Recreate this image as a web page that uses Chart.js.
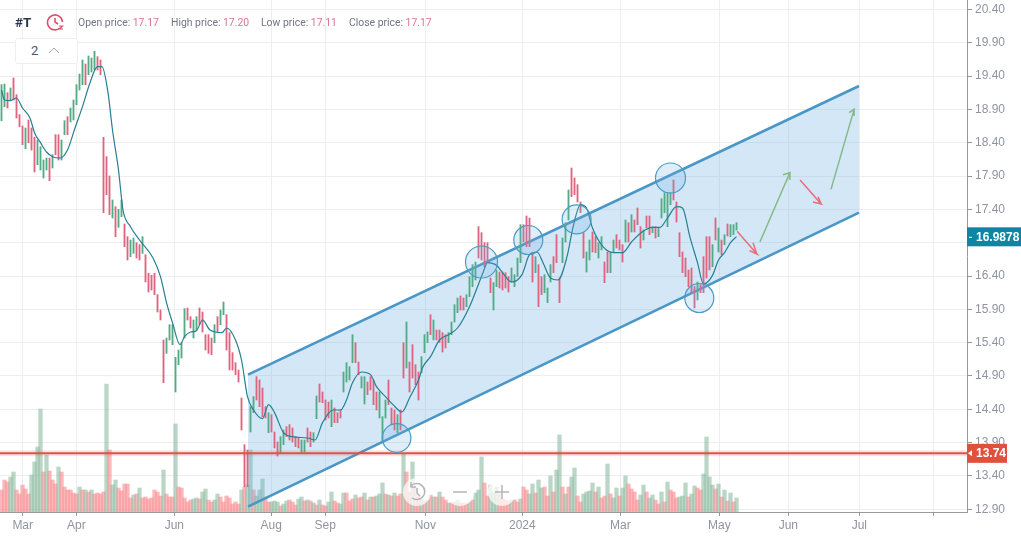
<!DOCTYPE html>
<html>
<head>
<meta charset="utf-8">
<title>#T</title>
<script src="https://cdn.jsdelivr.net/npm/chart.js@4/dist/chart.umd.min.js"></script>
<style>
    html, body { margin: 0; padding: 0; background: #fff; }
    #wrap { position: relative; width: 1021px; height: 537px; overflow: hidden; font-family: Roboto, sans-serif; }
    canvas { position: absolute; left: 0; top: 0; }
    .hd { position: absolute; top: 16px; font-size: 10.4px; line-height: 13px; color: #6f7582; white-space: nowrap; }
    .hd span { color: #d8788a; }
    #ticker { position: absolute; left: 15px; top: 14px; font-size: 13.5px; line-height: 16px; font-weight: 700; color: #2d3550; }
    #clock { position: absolute; left: 46px; top: 13px; }
    #period { position: absolute; left: 15px; top: 38px; width: 61px; height: 24px; border: 1px solid #efefef; border-radius: 3px; background: #fff; }
    #period b { position: absolute; left: 15px; top: 4px; font-weight: 400; font-size: 13px; line-height: 16px; color: #555; }
    #period svg { position: absolute; left: 32px; top: 8px; }
    .btn { position: absolute; top: 477px; }
</style>
</head>
<body>
<div id="wrap">
    <canvas id="price-chart" width="1021" height="537"></canvas>
    <div id="ticker">#T</div>
    <svg id="clock" width="18" height="18" viewBox="0 0 18 18" fill="none" stroke="#d9536b" stroke-width="1.6">
        <path d="M14 15 A7.5 7.5 0 1 1 16.5 9"/><path d="M9 5v4l3 2"/><path d="M13 13h3.5l-3 3h3.5" stroke-width="1.2"/>
    </svg>
    <div class="hd" style="left:78px">Open price: <span>17.17</span></div>
    <div class="hd" style="left:171px">High price: <span>17.20</span></div>
    <div class="hd" style="left:261px">Low price: <span>17.11</span></div>
    <div class="hd" style="left:349px">Close price: <span>17.17</span></div>
    <div id="period"><b>2</b>
        <svg width="12" height="7" viewBox="0 0 12 7" fill="none" stroke="#aaa" stroke-width="1"><path d="M1 6l5-5 5 5"/></svg>
    </div>
    <svg class="btn" style="left:402px" width="30" height="30" viewBox="0 0 30 30" fill="none" stroke="#b5b5b5" stroke-width="1.5">
        <circle cx="15" cy="15" r="14" fill="rgba(255,255,255,.72)" stroke="none"/>
        <path d="M9 9 A8 8 0 1 1 10 21"/><path d="M9 5v5h5"/><path d="M15 11v5l3 3"/>
    </svg>
    <svg class="btn" style="left:445px" width="30" height="30" viewBox="0 0 30 30" fill="none" stroke="#b5b5b5" stroke-width="1.5">
        <circle cx="15" cy="15" r="14" fill="rgba(255,255,255,.72)" stroke="none"/>
        <path d="M8 15h14"/>
    </svg>
    <svg class="btn" style="left:487px" width="30" height="30" viewBox="0 0 30 30" fill="none" stroke="#b5b5b5" stroke-width="1.5">
        <circle cx="15" cy="15" r="14" fill="rgba(255,255,255,.72)" stroke="none"/>
        <path d="M8 15h14M15 8v14"/>
    </svg>
</div>

<script>
// session highs and lows, one entry per session
const highs = [
    19.27,19.28,19.15,19.22,19.37,19.12,18.82,18.65,18.62,18.74,
    18.62,18.48,18.44,18.34,18.14,18.17,18.17,18.22,18.52,18.52,
    18.44,18.73,18.79,18.92,19.04,19.27,19.43,19.64,19.58,19.70,
    19.67,19.77,19.69,19.64,18.48,18.19,17.90,17.54,17.44,17.40,
    17.54,17.18,16.99,16.94,16.97,16.90,16.87,16.99,16.72,16.44,
    16.41,16.44,16.12,15.89,15.44,15.47,15.67,15.67,15.18,15.29,
    15.40,15.91,15.92,15.79,15.74,15.79,15.92,15.86,15.52,15.52,
    15.47,15.67,15.79,15.89,16.01,15.82,15.55,15.25,15.10,14.99,
    14.57,13.87,13.79,14.44,14.59,14.89,14.84,14.72,14.44,14.35,
    14.32,14.06,13.91,13.99,14.09,14.14,14.17,14.12,13.99,13.97,
    13.94,13.94,14.12,14.06,14.05,14.60,14.78,14.66,14.54,14.51,
    14.54,14.42,14.35,14.39,14.96,15.10,15.04,15.52,15.40,15.11,
    14.89,14.89,14.81,14.89,14.84,14.66,14.66,14.29,14.54,14.84,
    14.42,14.39,14.32,14.39,15.40,15.71,15.11,15.37,15.07,14.96,
    15.19,15.52,15.56,15.82,15.74,15.59,15.59,15.55,15.52,15.55,
    15.71,15.97,16.07,16.10,16.07,16.12,16.39,16.57,16.61,17.14,
    17.05,16.90,16.90,16.37,16.30,16.49,16.46,16.46,16.45,16.39,
    16.52,16.42,16.67,17.17,17.17,17.30,17.27,16.75,16.69,16.57,
    16.39,16.42,16.22,16.57,16.69,17.02,16.37,16.97,17.20,17.69,
    18.02,17.87,17.77,17.51,17.05,16.76,16.94,17.06,16.99,16.90,
    16.99,16.61,16.76,16.76,16.94,17.02,16.94,16.87,17.24,17.20,
    17.32,17.24,17.42,17.14,17.09,17.30,17.30,17.14,17.14,17.12,
    17.56,17.65,17.65,17.65,17.84,17.51,17.05,16.76,16.67,16.49,
    16.52,16.24,16.31,16.27,16.69,16.99,16.99,16.87,17.27,17.12,
    16.94,17.02,17.18,17.17,17.17,17.20
];
const lows = [
    18.73,18.94,18.92,19.04,19.04,18.77,18.64,18.37,18.31,18.40,
    18.29,17.96,18.07,17.99,17.87,17.99,17.83,18.02,18.22,18.14,
    18.14,18.52,18.52,18.71,18.74,18.97,19.19,19.27,19.27,19.42,
    19.46,19.49,19.49,19.42,17.35,17.62,17.32,17.27,16.99,17.13,
    17.29,16.84,16.64,16.69,16.74,16.67,16.64,16.74,16.31,16.16,
    16.19,16.12,15.86,15.74,14.80,15.24,15.44,15.37,14.66,15.07,
    15.17,15.47,15.74,15.62,15.47,15.59,15.67,15.56,15.29,15.24,
    15.22,15.40,15.56,15.67,15.82,15.29,14.99,14.99,14.92,14.81,
    14.09,13.24,13.24,14.06,14.35,14.54,14.44,14.29,14.27,14.05,
    14.06,13.82,13.70,13.75,13.87,13.99,13.94,13.91,13.84,13.82,
    13.75,13.76,13.91,13.84,13.91,14.26,14.51,14.50,14.24,14.27,
    14.14,14.20,14.20,14.27,14.66,14.81,14.84,15.10,15.10,14.92,
    14.72,14.48,14.62,14.69,14.47,14.39,14.27,13.91,14.27,14.47,
    14.17,14.09,14.05,14.09,14.87,15.02,14.66,14.87,14.77,14.54,
    14.95,15.25,15.40,15.52,15.44,15.44,15.40,15.26,15.32,15.40,
    15.52,15.71,15.85,15.89,15.89,15.94,16.09,16.24,16.34,16.67,
    16.64,16.54,16.60,16.15,15.89,16.24,16.22,16.19,16.22,16.16,
    16.31,16.24,16.39,16.60,16.91,16.84,16.84,16.31,16.45,15.94,
    16.12,16.15,16.00,16.31,16.45,16.60,16.00,16.60,16.91,17.24,
    17.59,17.62,17.51,17.35,16.67,16.46,16.64,16.76,16.75,16.67,
    16.79,16.30,16.45,16.45,16.76,16.82,16.79,16.61,16.91,16.91,
    17.06,17.06,17.17,16.82,16.94,17.12,17.02,17.05,16.97,16.99,
    17.27,17.35,17.14,17.47,17.54,17.21,16.69,16.45,16.39,16.24,
    16.15,15.92,16.04,16.15,16.15,16.37,16.49,16.54,16.94,16.76,
    16.72,16.87,17.00,16.99,17.02,17.09
];
// g = closed up, r = closed down
const candleDirs = "ggrgrrrrgr" + "rrggggrgrr" + "ggrgggggrg" + "ggrrrrrgrg" + "grrggrrgrr" +
    "rrrrrggggg" + "ggrrggrrrr" + "rgrggrrrrr" + "rrrggrrrrg" + "rrrggrrrrr" +
    "ggrrggrrrr" + "grrrggggrr" + "ggrrrrgggr" + "rrgrrgrrrr" + "gggrgrrrrg" +
    "gggrrggggr" + "rrrrggrrrr" + "ggggrrrrgr" + "rgggrrrggg" + "rrrrrggrrg" +
    "grrggrrrgr" + "grrrgrrgrg" + "ggggrrrrrr" + "rrgrrrrgrg" + "rgrggg";

// volume in millions, one entry per session
const volumes = [
    22,32,30,35,40,22,18,27,23,18, 37,50,65,103,40,57,41,32,28,45,
    40,25,22,22,19,18,25,22,22,20, 22,18,19,18,20,128,62,27,32,24,
    21,28,28,14,17,18,24,14,15,13, 14,22,20,16,42,18,15,15,88,25,
    24,14,10,12,13,14,13,20,23,12, 10,12,18,15,10,16,14,8,10,8,
    22,25,27,62,22,16,22,33,15,10, 10,11,10,6,8,11,12,10,7,13,
    15,11,12,11,9,7,12,7,6,10, 20,11,9,8,19,19,11,13,17,14,
    15,19,12,15,15,16,18,29,18,17, 16,19,16,18,58,40,20,50,25,16,
    13,11,12,17,15,15,20,15,12,9, 9,10,12,9,9,8,10,12,19,22,
    55,29,16,27,19,25,18,13,12,11, 12,12,10,13,25,22,18,28,19,32,
    24,25,16,36,20,42,77,25,18,25, 35,44,16,10,18,20,21,29,20,25,
    14,16,48,18,14,24,16,24,36,28, 23,20,12,17,27,20,14,17,12,8,
    20,10,30,22,20,14,15,16,29,15, 18,26,24,22,38,75,35,27,23,28,
    15,22,11,19,10,14
];
const volumeDirs = "rrrggrrrrr" + "ggggrgrrrg" + "rrrrrrgrgr" + "grrrrgrggr" + "rrrrgrgrrr" +
    "rrrrgrrrgr" + "rrrrggrggr" + "rggrrrrrrr" + "grggrgggrr" + "gggrggrrrg" +
    "grgrgrgrrg" + "grrggrrrgr" + "rgrgrgggrg" + "rgrrgrrgrr" + "grgrgrgrrg" +
    "rrgrrrgrgg" + "grrgggrrrr" + "grrgrrggrg" + "grrgrggrgr" + "ggrrggggrg" +
    "rrgrggrggr" + "rrrggrggrr" + "grgrrrgggr" + "ggrrggggrg" + "rgrgrg";

// moving average: session number and value
const maSessions = [0,1,3,5,7,9.5,11,13,15,17,19.5,22,24.5,27,29.5,32,33.5,35.5,37,39,40.5,43,46,50.5,53,55,57,59.5,61,63,65,67,69.5,73.5,75,78,80,82,84,87,89,91,94,97,102,104.5,107,110.5,113,115,117,120,123,125,128,130.5,133.5,136,139,140.5,143,146,149,152,156,160.5,162,165,167,170,173.5,176,178.5,180.5,183,185.5,188.5,190.5,193,195,197,200.5,204,207,210,213.5,217,219.5,222,225,227,229.5,232,234,237,239,241,243,245];
const maValues = [19.19,19.04,19.03,19.07,18.92,18.77,18.55,18.40,18.26,18.19,18.17,18.29,18.62,18.94,19.30,19.54,19.54,19.15,18.59,17.99,17.39,17.14,16.94,16.67,16.39,16.00,15.70,15.37,15.49,15.56,15.58,15.74,15.59,15.55,15.62,15.44,15.14,14.59,14.39,14.26,14.47,14.35,14.05,13.99,13.97,13.94,14.20,14.39,14.39,14.54,14.80,14.96,14.92,14.74,14.59,14.47,14.36,14.57,14.84,15.04,15.19,15.44,15.52,15.62,15.94,16.45,16.60,16.56,16.45,16.31,16.42,16.72,16.76,16.60,16.37,16.34,16.69,17.13,17.47,17.42,17.12,16.84,16.75,16.75,16.91,17.06,17.13,17.13,17.27,17.44,17.42,16.98,16.60,16.28,16.41,16.64,16.75,16.90,16.99];

// axes
const priceTicks = [12.9,13.4,13.9,14.4,14.9,15.4,15.9,16.4,16.9,17.4,17.9,18.4,18.9,19.4,19.9,20.4];
const monthTicks = [7.07,24.93,57.6,89.93,107.93,141.27,173.6,206.27,239.27,262.27,285.93,310.6];
const monthLabels = ["Mar","Apr","Jun","Aug","Sep","Nov","2024","Mar","May","Jun","Jul",""];

// drawings on the chart
const channelSessions = [82.17,285.83];
const channelUpper = [14.92,19.25];
const channelLower = [12.94,17.35];
const circleSessions = [131.7,160,175.6,191.7,223,232.6];
const circlePrices = [13.97,16.61,16.94,17.25,17.87,16.07];
const circleSizes = [14.3,16,14.5,14.5,15,14.5];
const supportPrice = 13.74;
const lastPrice = 16.9878;
const arrowRed1 = [[245.2,17.07],[251.8,16.73],[249.3,16.78],[251.8,16.73],[250.5,16.90]];
const arrowGreen1 = [[252.8,16.91],[262.8,17.95],[260.5,17.92],[262.8,17.95],[262.8,17.84]];
const arrowRed2 = [[266.2,17.84],[273.2,17.48],[270.5,17.51],[273.2,17.48],[272.2,17.59]];
const arrowGreen2 = [[276.5,17.70],[284.2,18.90],[282.5,18.85],[284.2,18.90],[284.2,18.80]];

const sessionCount = 322; // width of the x axis, including the empty part on the right

function xy(xs, ys) {
    return xs.map(function(x, i) { return { x: x, y: ys[i] }; });
}

function arrowDataset(path, color) {
    return {
        type: "line",
        data: path.map(function(p) { return { x: p[0], y: p[1] }; }),
        borderColor: color,
        borderWidth: 1.5,
        pointRadius: 0,
        order: 1
    };
}

const candleData = highs.map(function(h, i) { return { x: i, y: [lows[i], h] }; });
const volumeData = volumes.map(function(v, i) { return { x: i, y: v }; });

// price tags on the right axis
const priceTags = {
    id: "priceTags",
    afterDraw: function(chart) {
        const c = chart.ctx;
        const scale = chart.scales.y;
        const left = scale.left;

        function tag(price, text, color, width) {
            const y = scale.getPixelForValue(price);
            c.save();
            c.fillStyle = color;
            c.fillRect(left, y - 9.5, width, 19);
            c.fillStyle = "#fff";
            c.font = "bold 12px 'Liberation Sans', Arial, sans-serif";
            c.textBaseline = "middle";
            c.textAlign = "left";
            c.fillText(text, left + 9, y + 0.5);
            c.restore();
            return y;
        }

        const y1 = tag(lastPrice, String(lastPrice), "#0d86a5", chart.width - left);
        c.fillStyle = "#fff";
        c.fillRect(left + 2, y1, 3, 1);
        const y2 = tag(supportPrice, supportPrice.toFixed(2), "#e0503c", 40);
        c.save();
        c.fillStyle = "#fff";
        c.beginPath();
        c.moveTo(left + 1, y2);
        c.lineTo(left + 5, y2 - 3);
        c.lineTo(left + 5, y2 + 3);
        c.fill();
        c.restore();
    }
};

const ctx = document.getElementById("price-chart").getContext("2d");
new Chart(ctx, {
    type: "bar",
    data: {
        datasets: [
            {
                // volume at the bottom
                data: volumeData,
                yAxisID: "vol",
                backgroundColor: volumeDirs.split("").map(function(d) {
                    return d === "g" ? "rgba(128,180,152,0.55)" : "rgba(250,135,140,0.6)";
                }),
                barThickness: 3.6,
                grouped: false,
                order: 9
            },
            {
                // upper channel line, filled down to the lower one
                type: "line",
                data: xy(channelSessions, channelUpper),
                borderColor: "#4a96c6",
                borderWidth: 2.6,
                backgroundColor: "rgba(110,175,225,0.30)",
                pointRadius: 0,
                fill: "+1",
                order: 8
            },
            {
                type: "line",
                data: xy(channelSessions, channelLower),
                borderColor: "#4a96c6",
                borderWidth: 2.6,
                pointRadius: 0,
                order: 7
            },
            {
                // session high-low bars
                data: candleData,
                backgroundColor: candleDirs.split("").map(function(d) {
                    return d === "g" ? "#52ab85" : "#de6580";
                }),
                barThickness: 1.2,
                grouped: false,
                order: 5
            },
            {
                type: "line",
                data: xy(maSessions, maValues),
                borderColor: "#267f94",
                borderWidth: 1.2,
                pointRadius: 0,
                cubicInterpolationMode: "monotone",
                order: 4
            },
            {
                // support line, pale halo under it
                type: "line",
                data: xy([-0.5, sessionCount], [supportPrice, supportPrice]),
                borderColor: "rgba(224,86,74,0.16)",
                borderWidth: 6,
                pointRadius: 0,
                order: 3
            },
            {
                type: "line",
                data: xy([-0.5, sessionCount], [supportPrice, supportPrice]),
                borderColor: "#dc5548",
                borderWidth: 2,
                pointRadius: 0,
                order: 2
            },
            {
                // marked touches of the channel
                type: "bubble",
                data: circleSessions.map(function(x, i) {
                    return { x: x, y: circlePrices[i], r: circleSizes[i] };
                }),
                backgroundColor: "rgba(110,175,225,0.22)",
                borderColor: "#4a9ac4",
                borderWidth: 1.2,
                order: 1
            },
            arrowDataset(arrowRed1, "#e4707a"),
            arrowDataset(arrowGreen1, "#86b98a"),
            arrowDataset(arrowRed2, "#e4707a"),
            arrowDataset(arrowGreen2, "#86b98a")
        ]
    },
    options: {
        responsive: false,
        animation: false,
        layout: { padding: 0, autoPadding: false },
        plugins: {
            legend: { display: false },
            tooltip: { enabled: false }
        },
        scales: {
            x: {
                type: "linear",
                offset: false,
                min: -0.5,
                max: sessionCount - 0.17,
                afterBuildTicks: function(scale) {
                    scale.ticks = monthTicks.map(function(v) { return { value: v }; });
                },
                afterFit: function(scale) {
                    scale.height = 25;
                    scale.paddingLeft = 0;
                    scale.paddingRight = 0;
                },
                grid: { color: "#eeeeee", lineWidth: 1, tickLength: 4, offset: false, tickColor: "#999" },
                border: { color: "#999", width: 1 },
                ticks: {
                    autoSkip: false,
                    maxRotation: 0,
                    padding: 2,
                    color: "#8f94a0",
                    font: { family: "'Liberation Sans', Arial, sans-serif", size: 12 },
                    callback: function(value, index) { return monthLabels[index]; }
                }
            },
            y: {
                position: "right",
                min: 12.86,
                max: 20.54,
                afterBuildTicks: function(scale) {
                    scale.ticks = priceTicks.map(function(v) { return { value: v }; });
                },
                afterFit: function(scale) {
                    scale.width = 54;
                    scale.paddingTop = 0;
                    scale.paddingBottom = 0;
                },
                grid: { color: "#eeeeee", lineWidth: 1, tickLength: 5, tickColor: "#999" },
                border: { color: "#999", width: 1 },
                ticks: {
                    autoSkip: false,
                    padding: 3,
                    color: "#8f94a0",
                    font: { family: "'Liberation Sans', Arial, sans-serif", size: 12 },
                    callback: function(value) { return value.toFixed(2); }
                }
            },
            vol: {
                display: false,
                min: 0,
                max: 512
            }
        }
    },
    plugins: [priceTags]
});
</script>
</body>
</html>
